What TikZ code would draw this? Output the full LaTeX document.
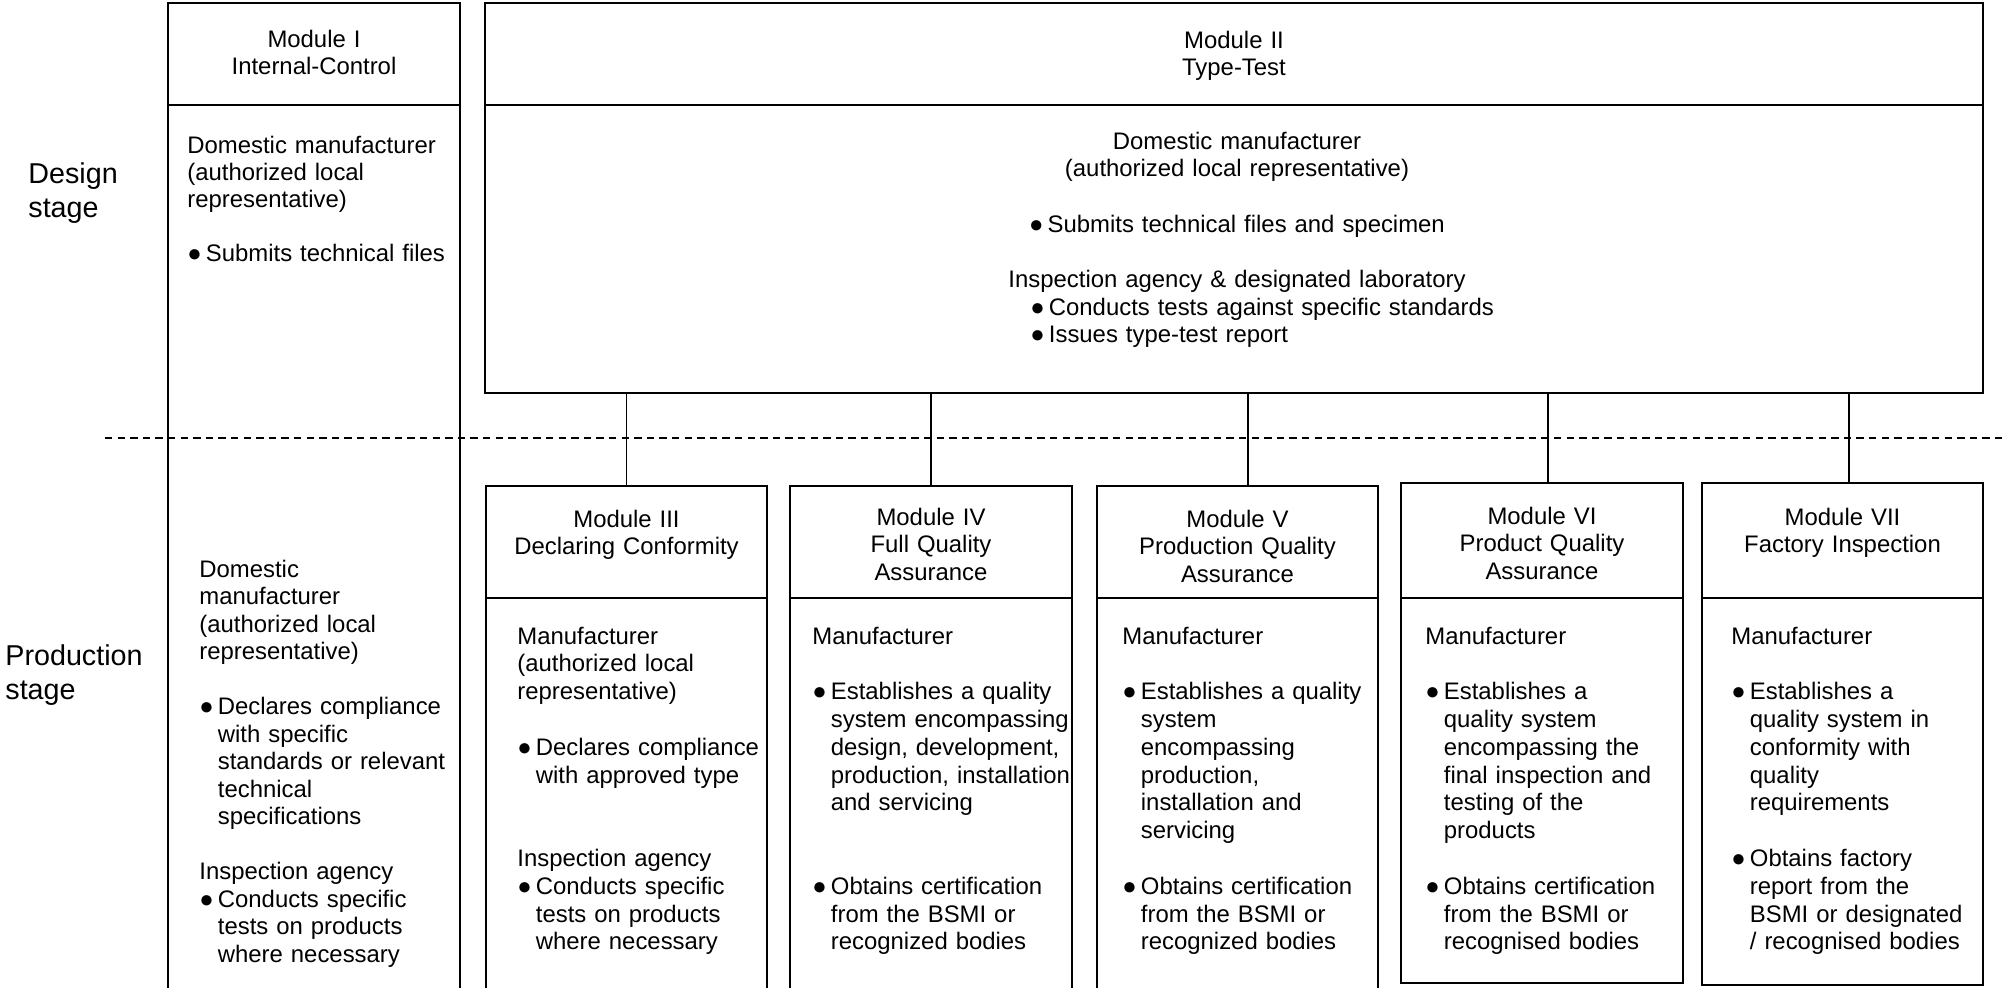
\documentclass[tikz,border=0pt]{standalone}
\usepackage{fontspec}
\setmainfont{Liberation Sans}
\usepackage{tikz}
\usetikzlibrary{fit}
\usetikzlibrary{positioning}

\newcommand{\bl}{\makebox[9.25pt][l]{●}}
\newcommand{\ind}{\hspace*{9.25pt}}

\tikzset{
	frame/.style={draw, line width=1pt, inner sep=0pt},
	link/.style={line width=0.9pt},
	dashline/.style={line width=0.9pt, dash pattern=on 3.7pt off 2.6pt},
	head/.style={anchor=base, align=center, text width=140pt, inner sep=0pt,
		font=\fontsize{11.95}{13.75}\selectfont},
	body/.style={anchor=base west, align=left, text width=140pt, inner sep=0pt,
		font=\fontsize{11.95}{13.9}\selectfont},
	stage/.style={anchor=base west, align=left, text width=70pt, inner sep=0pt,
		font=\fontsize{14.35}{17.25}\selectfont}
}

\begin{document}
\begin{tikzpicture}[x=0.5pt, y=-0.5pt]
	\useasboundingbox (0,0) rectangle (2008,987);

	% stage labels
	\node[stage] (ds) at (28,183) {Design\\stage};
	\node[stage] (ps) at (5,665) {Production\\stage};

	% module frames
	\node[frame, fit={(168,3) (460,105)}] (m1h) {};
	\node[frame, fit={(168,105) (460,992)}] (m1b) {};
	\node[frame, fit={(485,3) (1983,105)}] (m2h) {};
	\node[frame, fit={(485,105) (1983,393)}] (m2b) {};
	\node[frame, fit={(486,486) (767,598)}] (m3h) {};
	\node[frame, fit={(486,598) (767,992)}] (m3b) {};
	\node[frame, fit={(790,486) (1072,598)}] (m4h) {};
	\node[frame, fit={(790,598) (1072,992)}] (m4b) {};
	\node[frame, fit={(1097,486) (1378,598)}] (m5h) {};
	\node[frame, fit={(1097,598) (1378,992)}] (m5b) {};
	\node[frame, fit={(1401,483) (1683,598)}] (m6h) {};
	\node[frame, fit={(1401,598) (1683,983)}] (m6b) {};
	\node[frame, fit={(1702,483) (1983,598)}] (m7h) {};
	\node[frame, fit={(1702,598) (1983,985)}] (m7b) {};

	% headers
	\node[head] (t1) at (314,47) {Module I\\Internal-Control};
	\node[head] (t2) at (1234,48) {Module II\\Type-Test};
	\node[head] (t3) at (626.5,527) {Module III\\Declaring Conformity};
	\node[head] (t4) at (931,525) {Module IV\\Full Quality\\Assurance};
	\node[head] (t5) at (1237.5,527) {Module V\\Production Quality\\Assurance};
	\node[head] (t6) at (1542,524) {Module VI\\Product Quality\\Assurance};
	\node[head] (t7) at (1842.5,525) {Module VII\\Factory Inspection};

	% contents
	\node[body, font=\fontsize{11.95}{13.6}\selectfont] (b1) at (187,153)
		{Domestic manufacturer\\(authorized local\\representative)\\[13.6pt]\bl Submits technical files};
	\node[body, font=\fontsize{11.95}{13.75}\selectfont] (b1p) at (199,577)
		{Domestic\\manufacturer\\(authorized local\\representative)\\[13.75pt]%
		\bl Declares compliance\\\ind with specific\\\ind standards or relevant\\\ind technical\\\ind specifications\\[13.75pt]%
		Inspection agency\\\bl Conducts specific\\\ind tests on products\\\ind where necessary};
	\node[body, anchor=base, align=center, text width=300pt, font=\fontsize{11.95}{13.85}\selectfont] (b2) at (1237,149)
		{Domestic manufacturer\\(authorized local representative)\\[13.85pt]%
		\bl Submits technical files and specimen\\[13.85pt]%
		Inspection agency \& designated laboratory};
	\node[body, text width=300pt, font=\fontsize{11.95}{13.85}\selectfont] (b2x) at (1030,315)
		{\bl Conducts tests against specific standards\\\bl Issues type-test report};
	\node[body] (b3) at (517,644)
		{Manufacturer\\(authorized local\\representative)\\[13.9pt]%
		\bl Declares compliance\\\ind with approved type\\[27.8pt]%
		Inspection agency\\\bl Conducts specific\\\ind tests on products\\\ind where necessary};
	\node[body] (b4) at (812,644)
		{Manufacturer\\[13.9pt]%
		\bl Establishes a quality\\\ind system encompassing\\\ind design, development,\\\ind production, installation\\\ind and servicing\\[27.8pt]%
		\bl Obtains certification\\\ind from the BSMI or\\\ind recognized bodies};
	\node[body] (b5) at (1122,644)
		{Manufacturer\\[13.9pt]%
		\bl Establishes a quality\\\ind system\\\ind encompassing\\\ind production,\\\ind installation and\\\ind servicing\\[13.9pt]%
		\bl Obtains certification\\\ind from the BSMI or\\\ind recognized bodies};
	\node[body] (b6) at (1425,644)
		{Manufacturer\\[13.9pt]%
		\bl Establishes a\\\ind quality system\\\ind encompassing the\\\ind final inspection and\\\ind testing of the\\\ind products\\[13.9pt]%
		\bl Obtains certification\\\ind from the BSMI or\\\ind recognised bodies};
	\node[body] (b7) at (1731,644)
		{Manufacturer\\[13.9pt]%
		\bl Establishes a\\\ind quality system in\\\ind conformity with\\\ind quality\\\ind requirements\\[13.9pt]%
		\bl Obtains factory\\\ind report from the\\\ind BSMI or designated\\\ind / recognised bodies};

	% type-test feeds the production modules
	\foreach \m/\dx in {3/0, 4/0, 5/10.5, 6/6, 7/6.5}
		\draw[link] ([xshift=\dx*0.5pt]m\m h.north) -- ([xshift=\dx*0.5pt]m\m h.north |- m2b.south);

	% stage border
	\coordinate (dl) at (105,438);
	\coordinate (dr) at (2008,438);
	\draw[dashline] (dl) -- (dr);
\end{tikzpicture}
\end{document}
